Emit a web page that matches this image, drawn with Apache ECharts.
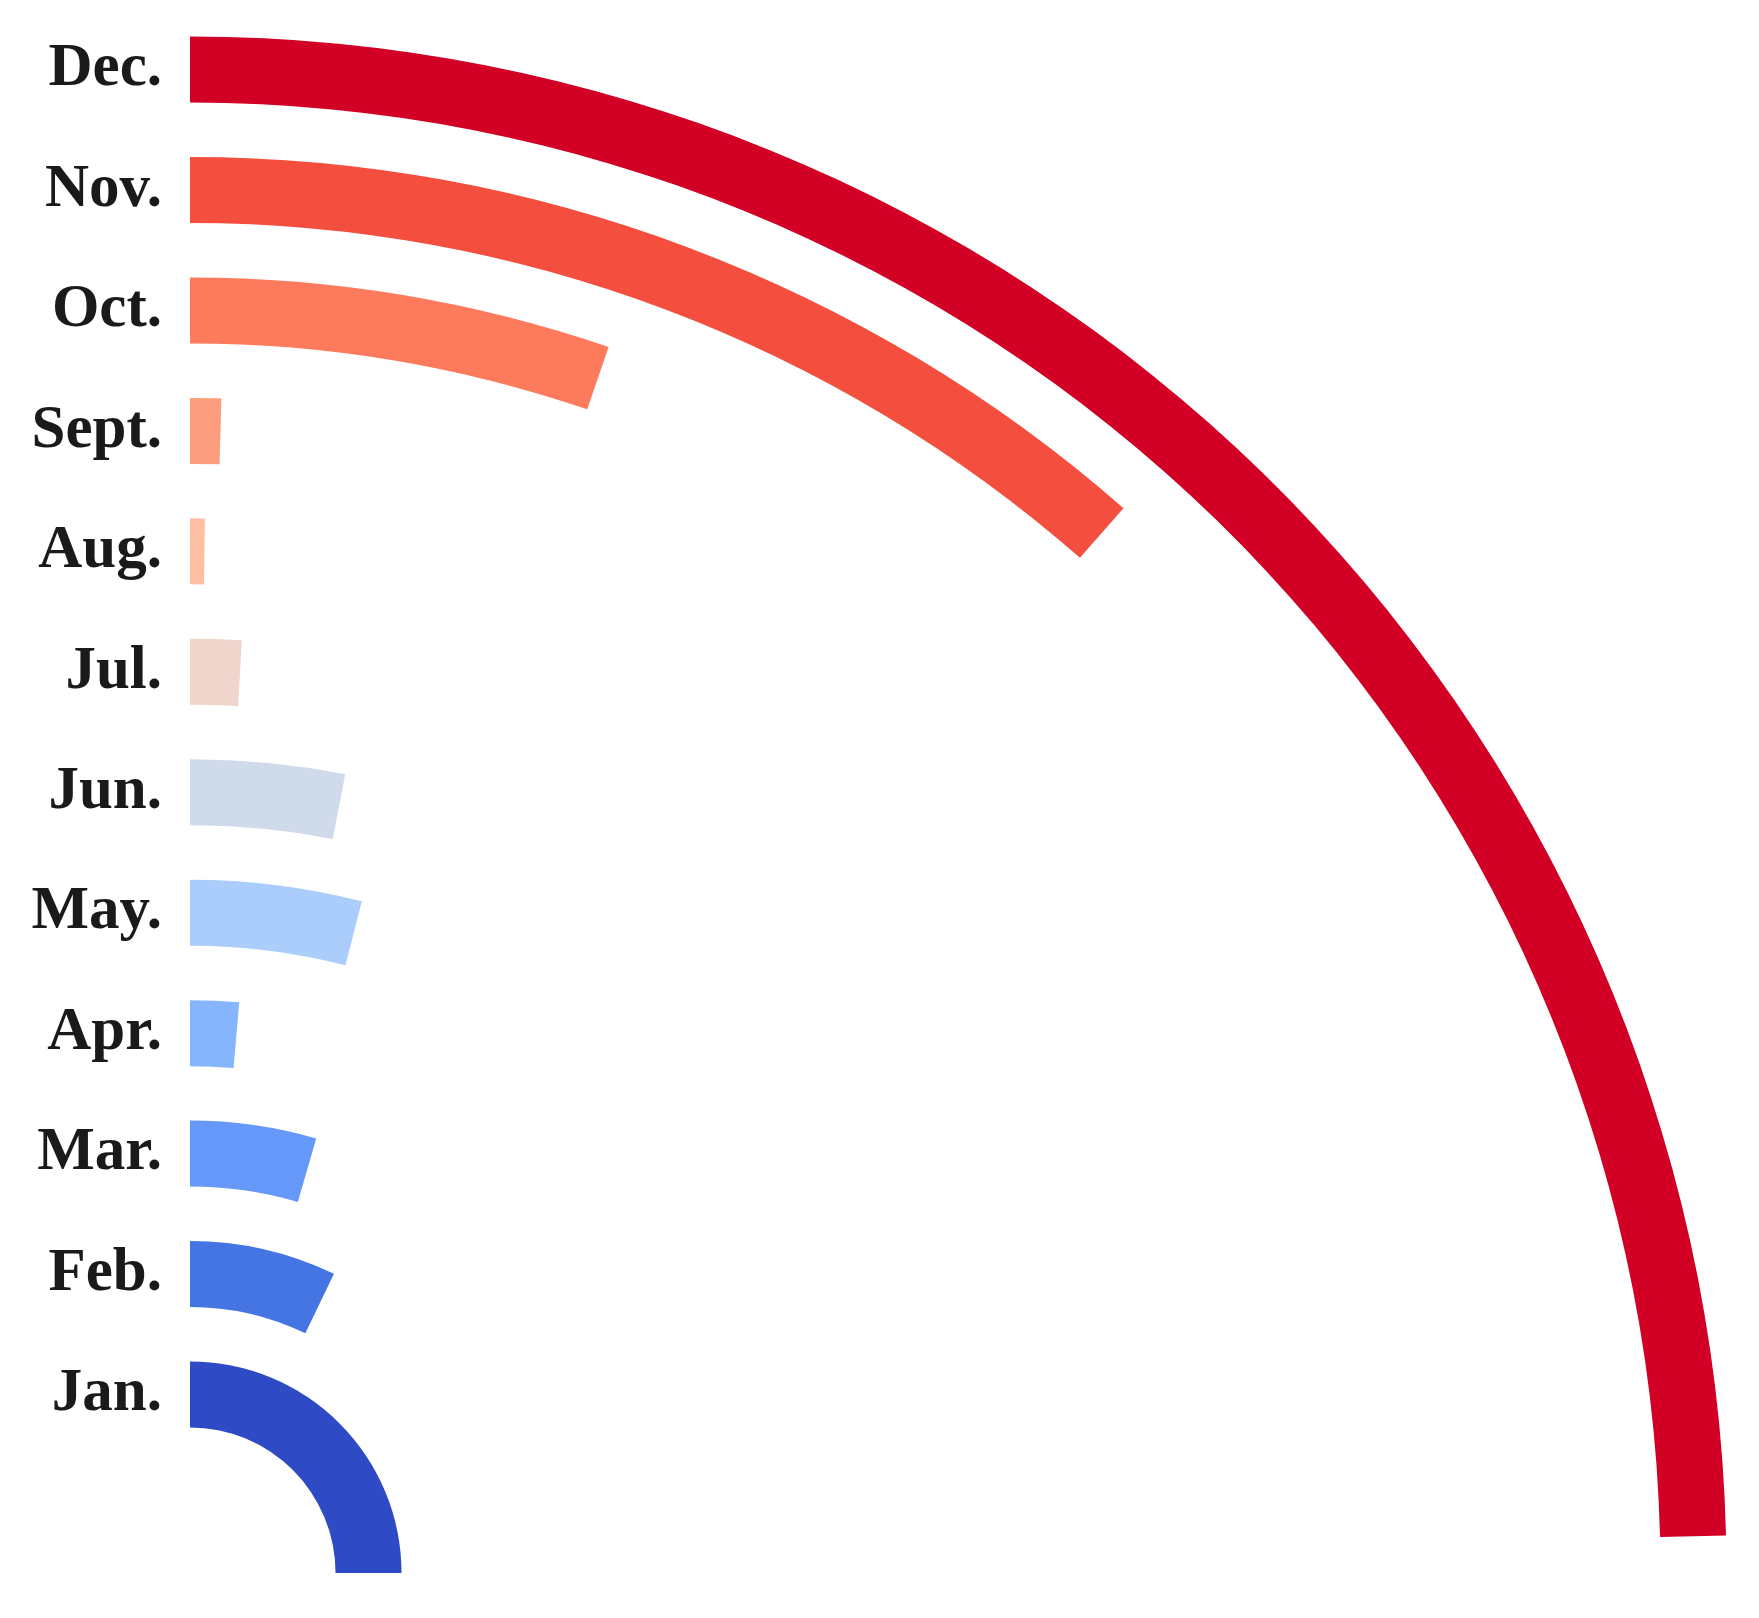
<!DOCTYPE html>
<html>
<head>
<meta charset="utf-8">
<script src="https://cdn.jsdelivr.net/npm/echarts@6/dist/echarts.min.js"></script>
<style>
html,body{margin:0;padding:0;background:#fff;}
#chart{width:1759px;height:1618px;}
</style>
</head>
<body>
<div id="chart"></div>
<script>
// Categories (inner to outer ring)
const months = ['Jan.', 'Feb.', 'Mar.', 'Apr.', 'May.', 'Jun.', 'Jul.', 'Aug.', 'Sept.', 'Oct.', 'Nov.', 'Dec.'];
// Arc sweep of each bar (degrees, clockwise from 12 o'clock)
const values = [90, 25.7, 16.2, 4.93, 14.35, 11.0, 3.18, 0.81, 1.53, 18.85, 41.24, 88.6];
// Bar colours
const colors = ['#2e4bc5', '#4575e2', '#6598f8', '#85b5fd', '#abcdfb', '#cfdaea', '#efd5cb', '#febfa3', '#fc9e7d', '#fd7a5d', '#f44e3e', '#d10024'];

const chart = echarts.init(document.getElementById('chart'), null, {renderer: 'canvas'});
chart.setOption({
  animation: false,
  backgroundColor: '#ffffff',
  polar: {
    center: [190, 1573],
    radius: [118.3, 1563.7]
  },
  angleAxis: {
    type: 'value',
    min: 0,
    max: 360,
    startAngle: 90,
    clockwise: true,
    show: false
  },
  radiusAxis: {
    type: 'category',
    data: months,
    axisLine: {show: false},
    axisTick: {show: false},
    splitLine: {show: false},
    axisLabel: {
      show: true,
      interval: 0,
      hideOverlap: false,
      margin: 28,
      color: '#1a1a1a',
      fontFamily: 'Liberation Serif',
      fontWeight: 'bold',
      fontSize: 61
    }
  },
  series: [{
    type: 'bar',
    coordinateSystem: 'polar',
    barWidth: 66,
    data: values.map((v, i) => ({value: v, itemStyle: {color: colors[i]}}))
  }]
});
</script>
</body>
</html>
